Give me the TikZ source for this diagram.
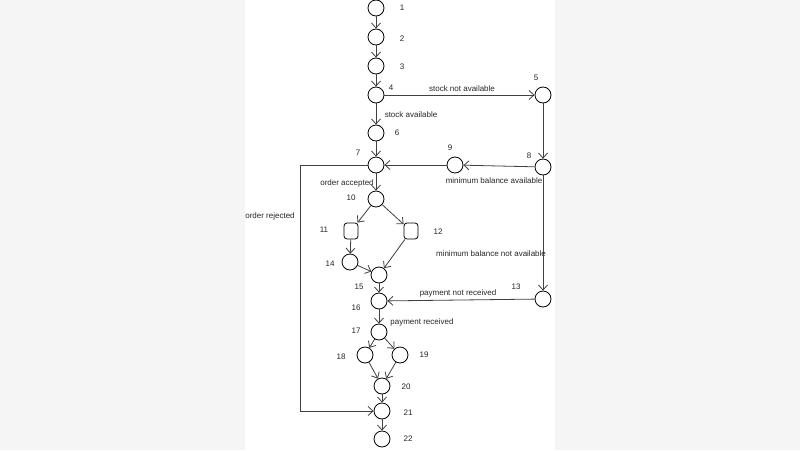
\documentclass[tikz,border=0pt]{standalone}
\usepackage{fontspec}
\setmainfont{Liberation Sans}
\usetikzlibrary{arrows.meta}
\begin{document}
\begin{tikzpicture}[x=1pt,y=-1pt,
  st/.style={circle,draw,thick,minimum size=16pt,inner sep=0pt},
  sq/.style={rectangle,rounded corners=3pt,draw,thick,minimum width=14pt,minimum height=16pt,inner sep=0pt},
  lb/.style={font=\fontsize{8}{9}\selectfont,inner sep=0pt,text=black!85},
  ar/.style={draw=black!75,thick,-{Straight Barb[length=5pt,width=9pt]}}]
\fill[gray!8] (0,0) rectangle (800,450);
\fill[white] (245,0) rectangle (555,450);
\useasboundingbox (0,0) rectangle (800,450);
\node[st] (n1) at (376,8) {};
\node[st] (n2) at (376,37) {};
\node[st] (n3) at (376,66) {};
\node[st] (n4) at (376,95) {};
\node[st] (n5) at (543,95) {};
\node[st] (n6) at (376,133) {};
\node[st] (n7) at (376,165) {};
\node[st] (n8) at (543,167) {};
\node[st] (n9) at (455,165) {};
\node[st] (n10) at (376,199) {};
\node[sq] (n11) at (351,231) {};
\node[sq] (n12) at (411,231) {};
\node[st] (n14) at (350,262) {};
\node[st] (n15) at (379,275) {};
\node[st] (n16) at (379,301) {};
\node[st] (n13) at (543,299) {};
\node[st] (n17) at (379,332) {};
\node[st] (n18) at (365,355) {};
\node[st] (n19) at (400,355) {};
\node[st] (n20) at (382,386) {};
\node[st] (n21) at (382,411) {};
\node[st] (n22) at (382,439) {};
\foreach \t/\x/\y in {1/402/8,2/402/39,3/402/67,4/391/88,5/536/78,6/397/133,7/358/153,8/529/156,9/450/148,10/351/198,11/324/230,12/438/232,14/330/264,15/359/287,16/356/308,13/516/287,17/356/331,18/341/357,19/424/355,20/406/387,21/408/413,22/408/439}
  \node[lb] (l\t) at (\x,\y) {\t};
\node[lb] (t1) at (462,89) {stock not available};
\node[lb] (t2) at (411,115) {stock available};
\node[lb] (t3) at (494,181) {minimum balance available};
\node[lb] (t4) at (347,183) {order accepted};
\node[lb] (t5) at (270,216) {order rejected};
\node[lb] (t6) at (491,254) {minimum balance not available};
\node[lb] (t7) at (458,293) {payment not received};
\node[lb] (t8) at (422,322) {payment received};
\coordinate (c1) at (300,165);
\coordinate (c2) at (300,411);
\draw[ar] (n1)--(n2);
\draw[ar] (n2)--(n3);
\draw[ar] (n3)--(n4);
\draw[ar] (n4)--(n5);
\draw[ar] (n5)--(n8);
\draw[ar] (n4)--(n6);
\draw[ar] (n6)--(n7);
\draw[ar] (n8)--(n9);
\draw[ar] (n9)--(n7);
\draw[ar] (n7)--(n10);
\draw[ar] (n7.west)--(c1)--(c2)--(n21);
\draw[ar] (n10)--(n11);
\draw[ar] (n10)--(n12);
\draw[ar] (n11)--(n14);
\draw[ar] (n14)--(n15);
\draw[ar] (n12)--(n15);
\draw[ar] (n15)--(n16);
\draw[ar] (n8)--(n13);
\draw[ar] (n13)--(n16);
\draw[ar] (n16)--(n17);
\draw[ar] (n17)--(n18);
\draw[ar] (n17)--(n19);
\draw[ar] (n18)--(n20);
\draw[ar] (n19)--(n20);
\draw[ar] (n20)--(n21);
\draw[ar] (n21)--(n22);
\end{tikzpicture}
\end{document}
